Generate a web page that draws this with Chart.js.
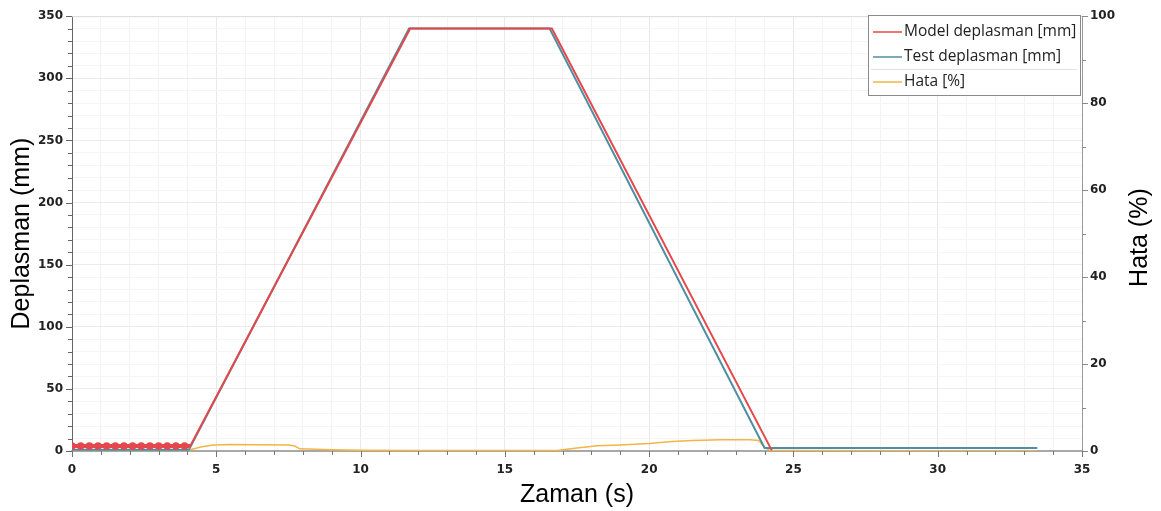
<!DOCTYPE html>
<html>
<head>
<meta charset="utf-8">
<script src="https://cdn.jsdelivr.net/npm/chart.js@4.4.1/dist/chart.umd.min.js"></script>
<style>
  html, body { margin: 0; padding: 0; background: #fff; }
  #wrap { width: 1161px; height: 511px; position: relative; }
</style>
</head>
<body>
<div id="wrap"><canvas id="chart" width="1161" height="511"></canvas></div>
<script>
// --- Data: time (s) / displacement (mm) / error (%) ---
const modelTime = [0, 0.3, 0.6, 0.9, 1.2, 1.5, 1.8, 2.1, 2.4, 2.7, 3.0, 3.3, 3.6, 3.9, 4.1, 11.72, 16.63, 24.25];
const modelDisp = [4, 4, 4, 4, 4, 4, 4, 4, 4, 4, 4, 4, 4, 4, 4, 340, 340, 0.5];

const testTime = [0, 4.05, 11.68, 16.55, 24.0, 33.45];
const testDisp = [1, 1, 340, 340, 2.5, 2.5];

const errTime = [0, 4.1, 4.5, 4.9, 5.5, 6.5, 7.5, 7.7, 7.9, 9, 10, 12, 16.8, 17.5, 18.2, 19, 20, 20.8, 21.5, 22.5, 23.5, 23.8, 24.0, 24.2, 33.45];
const errPct  = [0.3, 0.3, 1.0, 1.4, 1.5, 1.45, 1.4, 1.2, 0.5, 0.3, 0.15, 0.1, 0.1, 0.7, 1.2, 1.4, 1.7, 2.2, 2.4, 2.6, 2.6, 2.4, 0.8, 0.1, 0];

const seriesNames = ['Model deplasman [mm]', 'Test deplasman [mm]', 'Hata [%]'];
const seriesColors = ['#e5474b', '#4f8fa2', '#f3b545'];

const xTitle = 'Zaman (s)';
const yTitle = 'Deplasman (mm)';
const y2Title = 'Hata (%)';

const toPoints = (xs, ys) => xs.map((x, i) => ({ x: x, y: ys[i] }));

const tickFont = { family: 'DejaVu Sans', size: 12, weight: 'bold' };

// tick marks, frame lines, axis titles and the boxed legend
const decorPlugin = {
  id: 'decor',
  afterDraw(chart) {
    const c = chart.ctx;
    const area = chart.chartArea;
    const sx = chart.scales.x, sy = chart.scales.y, sy2 = chart.scales.y1;
    c.save();

    // top frame line
    c.strokeStyle = '#dcdcdc';
    c.lineWidth = 1;
    c.beginPath();
    c.moveTo(area.left, area.top + 0.5);
    c.lineTo(area.right, area.top + 0.5);
    c.stroke();

    // tick marks
    c.lineWidth = 1;
    c.strokeStyle = '#666';
    sy.ticks.forEach(t => {
      const p = Math.round(sy.getPixelForValue(t.value)) + 0.5;
      const len = t.value % 50 === 0 ? 6 : 4;
      c.beginPath(); c.moveTo(area.left - len, p); c.lineTo(area.left, p); c.stroke();
    });
    c.strokeStyle = '#888';
    sy2.ticks.forEach(t => {
      const p = Math.round(sy2.getPixelForValue(t.value)) + 0.5;
      const len = t.value % 20 === 0 ? 6 : 4;
      c.beginPath(); c.moveTo(area.right, p); c.lineTo(area.right + len, p); c.stroke();
    });
    c.strokeStyle = '#777';
    sx.ticks.forEach(t => {
      const p = Math.round(sx.getPixelForValue(t.value)) + 0.5;
      const len = t.value % 5 === 0 ? 6 : 4;
      c.beginPath(); c.moveTo(p, area.bottom); c.lineTo(p, area.bottom + len); c.stroke();
    });

    // axis titles
    c.fillStyle = '#000';
    c.font = '25px "Liberation Sans", Arial, sans-serif';
    c.textAlign = 'center';
    c.textBaseline = 'middle';
    c.fillText(xTitle, (area.left + area.right) / 2, 495);
    c.save();
    c.translate(22, (area.top + area.bottom) / 2);
    c.rotate(-Math.PI / 2);
    c.fillText(yTitle, 0, 0);
    c.restore();
    c.save();
    c.translate(1140, (area.top + area.bottom) / 2 + 4);
    c.rotate(-Math.PI / 2);
    c.fillText(y2Title, 0, 0);
    c.restore();

    // legend box
    const bx = 868, by = 15, bw = 212, bh = 80;
    c.fillStyle = '#fff';
    c.fillRect(bx, by, bw, bh);
    c.strokeStyle = '#8a8a8a';
    c.lineWidth = 1;
    c.strokeRect(bx + 0.5, by + 0.5, bw, bh);
    c.strokeStyle = '#e2e2e2';
    c.beginPath(); c.moveTo(bx + 3, 69.5); c.lineTo(bx + bw - 3, 69.5); c.stroke();
    const rows = [32, 57, 82];
    c.font = '15.5px "Open Sans", sans-serif';
    c.textAlign = 'left';
    c.textBaseline = 'middle';
    seriesNames.forEach((name, i) => {
      c.strokeStyle = seriesColors[i];
      c.lineWidth = 1.5;
      c.beginPath(); c.moveTo(873, rows[i]); c.lineTo(902, rows[i]); c.stroke();
      c.fillStyle = '#222';
      c.fillText(name, 904, rows[i]);
    });
    c.restore();
  }
};

new Chart(document.getElementById('chart'), {
  type: 'line',
  data: {
    datasets: [
      {
        label: seriesNames[0],
        data: toPoints(modelTime, modelDisp),
        borderColor: seriesColors[0],
        backgroundColor: seriesColors[0],
        borderWidth: 2,
        pointRadius: ctx => (ctx.dataIndex < 14 ? 3.8 : 0),
        pointBorderWidth: 0,
        segment: {
          borderWidth: ctx => (ctx.p1DataIndex <= 14 ? 4 : 2)
        },
        yAxisID: 'y',
        order: 0
      },
      {
        label: seriesNames[1],
        data: toPoints(testTime, testDisp),
        borderColor: seriesColors[1],
        borderWidth: 2,
        pointRadius: 0,
        yAxisID: 'y',
        order: 1
      },
      {
        label: seriesNames[2],
        data: toPoints(errTime, errPct),
        borderColor: seriesColors[2],
        borderWidth: 1.5,
        pointRadius: 0,
        yAxisID: 'y1',
        order: 2
      }
    ]
  },
  options: {
    responsive: false,
    animation: false,
    layout: { padding: { top: 15, left: 0, right: 0, bottom: 0 } },
    plugins: {
      legend: { display: false },
      tooltip: { enabled: false }
    },
    scales: {
      x: {
        type: 'linear',
        min: 0, max: 35,
        afterFit: s => { s.height = 60; },
        ticks: {
          stepSize: 1, autoSkip: false, maxRotation: 0, padding: 12,
          font: tickFont, color: '#222',
          callback: v => (v % 5 === 0 ? v : '')
        },
        grid: {
          drawTicks: false,
          color: ctx => (ctx.tick && ctx.tick.value % 5 === 0 ? '#e9e9e9' : '#f3f3f3')
        },
        border: { display: true, color: '#a8a8a8', width: 2 }
      },
      y: {
        position: 'left',
        min: 0, max: 350,
        afterFit: s => { s.width = 72; },
        ticks: {
          stepSize: 10, autoSkip: false, padding: 9,
          font: tickFont, color: '#222',
          callback: v => (v % 50 === 0 ? v : '')
        },
        grid: {
          drawTicks: false,
          color: ctx => (ctx.tick && ctx.tick.value % 50 === 0 ? '#ececec' : '#f5f5f5')
        },
        border: { display: true, color: '#666', width: 1 }
      },
      y1: {
        position: 'right',
        min: 0, max: 100,
        afterFit: s => { s.width = 79; },
        ticks: {
          stepSize: 10, autoSkip: false, padding: 8,
          font: tickFont, color: '#222',
          callback: v => (v % 20 === 0 ? v : '')
        },
        grid: { drawOnChartArea: false, drawTicks: false },
        border: { display: true, color: '#999', width: 1 }
      }
    }
  },
  plugins: [decorPlugin]
});
</script>
</body>
</html>
